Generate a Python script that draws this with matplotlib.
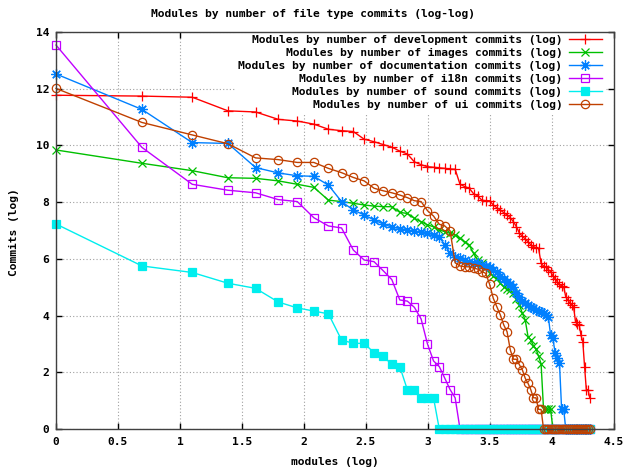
import numpy as np
import matplotlib
matplotlib.use('Agg')
import matplotlib.pyplot as plt

# log(commits) for each module, modules sorted by rank (x = log(rank))
dev_commits = [11.77, 11.74, 11.70, 11.22, 11.18, 10.92, 10.86, 10.75, 10.57, 10.52,
               10.49, 10.22, 10.13, 10.03, 9.94, 9.80, 9.70, 9.42, 9.32, 9.25,
               9.23, 9.21, 9.19, 9.17, 9.16, 8.63, 8.55, 8.49, 8.30, 8.22,
               8.07, 8.05, 8.05, 7.90, 7.80, 7.72, 7.63, 7.55, 7.45, 7.31,
               7.13, 6.90, 6.80, 6.70, 6.60, 6.50, 6.43, 6.40, 6.37, 5.84,
               5.75, 5.70, 5.62, 5.55, 5.40, 5.30, 5.19, 5.10, 5.05, 5.02,
               4.66, 4.55, 4.45, 4.37, 4.30, 3.78, 3.70, 3.67, 3.30, 3.08,
               2.20, 1.39, 1.39, 1.10]

images_commits = [9.84, 9.37, 9.11, 8.86, 8.84, 8.75, 8.63, 8.52, 8.07, 8.02,
                  7.96, 7.90, 7.86, 7.84, 7.84, 7.64, 7.60, 7.43, 7.31, 7.20,
                  7.13, 7.02, 6.96, 6.90, 6.84, 6.72, 6.60, 6.49, 6.19, 5.96,
                  5.85, 5.72, 5.49, 5.40, 5.31, 5.14, 5.02, 4.95, 4.90, 4.78,
                  4.60, 4.37, 4.08, 3.84, 3.26, 3.14, 2.94, 2.83, 2.56, 2.30,
                  0.69, 0.69, 0.69, 0.69, 0.0, 0.0, 0.0, 0.0, 0.0, 0.0,
                  0.0, 0.0, 0.0, 0.0, 0.0, 0.0, 0.0, 0.0, 0.0, 0.0,
                  0.0, 0.0, 0.0, 0.0]

doc_commits = [12.52, 11.27, 10.10, 10.07, 9.22, 9.03, 8.93, 8.91, 8.60, 8.02,
               7.72, 7.55, 7.37, 7.23, 7.12, 7.07, 7.02, 6.98, 6.94, 6.90,
               6.85, 6.78, 6.49, 6.19, 6.08, 6.02, 5.96, 5.90, 5.86, 5.84,
               5.80, 5.75, 5.70, 5.62, 5.52, 5.40, 5.28, 5.18, 5.10, 5.02,
               4.80, 4.66, 4.52, 4.43, 4.38, 4.31, 4.26, 4.20, 4.16, 4.12,
               4.08, 4.02, 3.96, 3.30, 3.20, 2.67, 2.50, 2.32, 0.69, 0.69,
               0.0, 0.0, 0.0, 0.0, 0.0, 0.0, 0.0, 0.0, 0.0, 0.0,
               0.0, 0.0, 0.0, 0.0]

i18n_commits = [13.54, 9.93, 8.63, 8.42, 8.33, 8.09, 8.02, 7.45, 7.16, 7.09,
                6.31, 5.96, 5.90, 5.58, 5.27, 4.55, 4.51, 4.29, 3.88, 3.00,
                2.40, 2.20, 1.79, 1.39, 1.10, 0.0, 0.0, 0.0, 0.0, 0.0,
                0.0, 0.0, 0.0, 0.0, 0.0, 0.0, 0.0, 0.0, 0.0, 0.0,
                0.0, 0.0, 0.0, 0.0, 0.0, 0.0, 0.0, 0.0, 0.0, 0.0,
                0.0, 0.0, 0.0, 0.0, 0.0, 0.0, 0.0, 0.0, 0.0, 0.0,
                0.0, 0.0, 0.0, 0.0, 0.0, 0.0, 0.0, 0.0, 0.0, 0.0,
                0.0, 0.0, 0.0, 0.0]

sound_commits = [7.23, 5.75, 5.52, 5.14, 4.96, 4.48, 4.27, 4.16, 4.06, 3.14,
                 3.02, 3.02, 2.69, 2.56, 2.28, 2.20, 1.39, 1.39, 1.10, 1.10,
                 1.10, 0.0, 0.0, 0.0, 0.0, 0.0, 0.0, 0.0, 0.0, 0.0,
                 0.0, 0.0, 0.0, 0.0, 0.0, 0.0, 0.0, 0.0, 0.0, 0.0,
                 0.0, 0.0, 0.0, 0.0, 0.0, 0.0, 0.0, 0.0, 0.0, 0.0,
                 0.0, 0.0, 0.0, 0.0, 0.0, 0.0, 0.0, 0.0, 0.0, 0.0,
                 0.0, 0.0, 0.0, 0.0, 0.0, 0.0, 0.0, 0.0, 0.0, 0.0,
                 0.0, 0.0, 0.0, 0.0]

ui_commits = [12.01, 10.81, 10.37, 10.06, 9.56, 9.50, 9.40, 9.40, 9.19, 9.04,
              8.87, 8.75, 8.49, 8.40, 8.33, 8.25, 8.16, 8.05, 8.02, 7.70,
              7.51, 7.22, 7.16, 6.99, 5.86, 5.75, 5.72, 5.72, 5.67, 5.64,
              5.55, 5.49, 5.11, 4.61, 4.31, 4.02, 3.67, 3.43, 2.79, 2.46,
              2.46, 2.26, 2.08, 1.79, 1.61, 1.39, 1.10, 1.10, 0.69, 0.69,
              0.0, 0.0, 0.0, 0.0, 0.0, 0.0, 0.0, 0.0, 0.0, 0.0,
              0.0, 0.0, 0.0, 0.0, 0.0, 0.0, 0.0, 0.0, 0.0, 0.0,
              0.0, 0.0, 0.0, 0.0]

series_labels = ['Modules by number of development commits (log)',
                 'Modules by number of images commits (log)',
                 'Modules by number of documentation commits (log)',
                 'Modules by number of i18n commits (log)',
                 'Modules by number of sound commits (log)',
                 'Modules by number of ui commits (log)']

x_ticks = [0, 0.5, 1, 1.5, 2, 2.5, 3, 3.5, 4, 4.5]
x_tick_labels = ['0', '0.5', '1', '1.5', '2', '2.5', '3', '3.5', '4', '4.5']
y_ticks = [0, 2, 4, 6, 8, 10, 12, 14]

#==============================================================================
FS = 8.1
plt.rcParams['font.family'] = ['DejaVu Sans Mono']
plt.rcParams['font.weight'] = 'bold'
plt.rcParams['font.size'] = FS

fig = plt.figure(figsize=(6.26, 4.69), dpi=100)
ax = fig.add_axes([56 / 626, 1 - 429 / 469, 558 / 626, 397 / 469])

styles = [
    dict(color='#ff0000', marker='+', ms=7, mew=0.9),
    dict(color='#00c000', marker='x', ms=5.5, mew=0.9),
    dict(color='#0080ff', marker=(8, 2, 0), ms=7.5, mew=0.9),
    dict(color='#c000ff', marker='s', ms=6, mew=0.9, mfc='none'),
    dict(color='#00eeee', marker='s', ms=6, mew=0.9),
    dict(color='#c04000', marker='o', ms=6, mew=0.9, mfc='none'),
]
all_series = [dev_commits, images_commits, doc_commits, i18n_commits, sound_commits, ui_commits]

for values, label, st in zip(all_series, series_labels, styles):
    ranks = np.arange(1, len(values) + 1)
    ax.plot(np.log(ranks), values, lw=1, label=label, clip_on=False, zorder=3, **st)

ax.set_xlim(0, 4.5)
ax.set_ylim(0, 14)
ax.set_xticks(x_ticks)
ax.set_xticklabels(x_tick_labels)
ax.set_yticks(y_ticks)
ax.tick_params(direction='in', length=4, width=1, top=True, right=True, colors='black')
ax.tick_params(axis='x', pad=6)
ax.tick_params(axis='y', pad=5)
ax.grid(True, color='#a0a0a0', linestyle=(0, (1, 2)), linewidth=0.8)
ax.set_axisbelow(True)
for sp in ax.spines.values():
    sp.set_linewidth(1)
    sp.set_color('#404040')
    sp.set_zorder(4)

# white key box hides the grid, lines stay on top of it
leg = ax.legend(loc='upper right', bbox_to_anchor=(0.985, 1.0), borderaxespad=0,
                markerfirst=False, frameon=True, fancybox=False, framealpha=1,
                facecolor='white', edgecolor='none', handlelength=3.0,
                handletextpad=0.55, labelspacing=0.26, borderpad=0.3, fontsize=FS)
leg.set_zorder(2.5)

fig.text(0.5, 1 - 14 / 469, 'Modules by number of file type commits (log-log)',
         ha='center', va='center', fontsize=FS)
fig.text(335 / 626, 1 - 462 / 469, 'modules (log)', ha='center', va='center', fontsize=FS)
fig.text(14 / 626, 1 - 232 / 469, 'Commits (log)', ha='center', va='center',
         rotation=90, fontsize=FS)

plt.savefig('out.png', dpi=100)
